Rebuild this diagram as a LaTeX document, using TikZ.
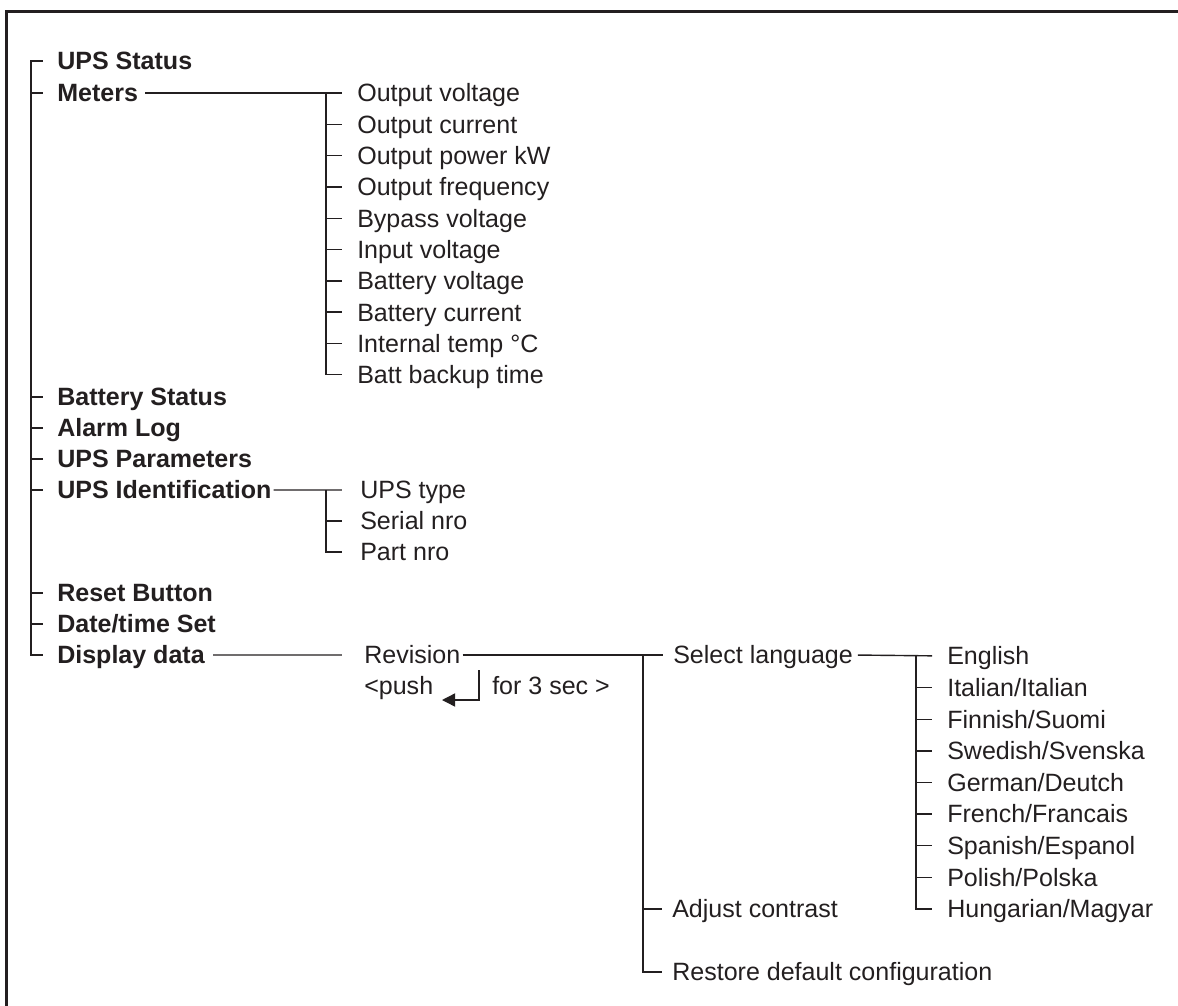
\documentclass[tikz,border=0pt]{standalone}
\usepackage{fontspec}
\setmainfont{Liberation Sans}
\usepackage{xcolor}
\usepackage{tikz}
\usetikzlibrary{arrows.meta,positioning}
\definecolor{ink}{HTML}{231F20}

\begin{document}
\begin{tikzpicture}[
x=0.025cm, y=-0.025cm,
font=\fontsize{17.8}{21}\selectfont,
item/.style={anchor=west, inner sep=0pt, text height=12.7pt, text depth=0pt, text=ink},
head/.style={item, font=\fontsize{17.8}{21}\selectfont\bfseries},
trunk/.style={draw=ink, line width=1.4pt},
twig/.style={draw=ink, line width=1pt},
frame/.style={draw=ink, line width=2.1pt}
]
\useasboundingbox (0,0) rectangle (1178,1006);
\draw[frame] (6.5,1006) |- (1178,11.5);

% main menu
\node[head] (status) at (57,61) {UPS Status};
\node[head] (meters) at (57,93) {Meters};
\node[head] (battery) at (57,397) {Battery Status};
\node[head, below=0.775cm of battery.west, anchor=west] (alarm) {Alarm Log};
\node[head, below=0.775cm of alarm.west, anchor=west] (params) {UPS Parameters};
\node[head, below=0.775cm of params.west, anchor=west] (ident) {UPS Identification};
\node[head] (reset) at (57,593) {Reset Button};
\node[head, below=0.775cm of reset.west, anchor=west] (date) {Date/time Set};
\node[head, below=0.775cm of date.west, anchor=west] (display) {Display data};

% meters
\node[item] (outv) at (357,93) {Output voltage};
\node[item, below=0.7825cm of outv.west, anchor=west] (outc) {Output current};
\node[item, below=0.7825cm of outc.west, anchor=west] (outp) {Output power kW};
\node[item, below=0.7825cm of outp.west, anchor=west] (outf) {Output frequency};
\node[item, below=0.7825cm of outf.west, anchor=west] (byp) {Bypass voltage};
\node[item, below=0.7825cm of byp.west, anchor=west] (inv) {Input voltage};
\node[item, below=0.7825cm of inv.west, anchor=west] (batv) {Battery voltage};
\node[item, below=0.7825cm of batv.west, anchor=west] (batc) {Battery current};
\node[item, below=0.7825cm of batc.west, anchor=west] (temp) {Internal temp °C};
\node[item, below=0.7825cm of temp.west, anchor=west] (backup) {Batt backup time};

% identification
\node[item] (upstype) at (360,490) {UPS type};
\node[item, below=0.775cm of upstype.west, anchor=west] (serial) {Serial nro};
\node[item, below=0.775cm of serial.west, anchor=west] (partno) {Part nro};

% display data
\node[item] (revision) at (364,655) {Revision};
\node[item] (push) at (364,686) {<push};
\node[item] (forsec) at (492,686) {for 3 sec >};
\node[item] (selang) at (673,655) {Select language};
\node[item] (adjust) at (672,909) {Adjust contrast};
\node[item] (restore) at (672,972) {Restore default configuration};

% languages
\node[item] (english) at (947,656) {English};
\node[item, below=0.79cm of english.west, anchor=west] (italian) {Italian/Italian};
\node[item, below=0.79cm of italian.west, anchor=west] (finnish) {Finnish/Suomi};
\node[item, below=0.79cm of finnish.west, anchor=west] (swedish) {Swedish/Svenska};
\node[item, below=0.79cm of swedish.west, anchor=west] (german) {German/Deutch};
\node[item, below=0.79cm of german.west, anchor=west] (french) {French/Francais};
\node[item, below=0.79cm of french.west, anchor=west] (spanish) {Spanish/Espanol};
\node[item, below=0.79cm of spanish.west, anchor=west] (polish) {Polish/Polska};
\node[item, below=0.79cm of polish.west, anchor=west] (hungarian) {Hungarian/Magyar};

\coordinate (spine) at (31,0);
\coordinate (mspine) at (326,0);
\coordinate (rspine) at (643,0);
\coordinate (lspine) at (916,0);
\coordinate (pushtop) at (479,670);
\coordinate (pushtip) at (442,700);

% main tree
\draw[trunk, shorten <=0.35cm, shorten >=0.35cm] (status.west) -| (spine |- display.west) -- (display.west);
\draw[trunk, shorten >=0.35cm] (spine |- meters.west) -- (meters.west);
\draw[trunk, shorten >=0.35cm] (spine |- battery.west) -- (battery.west);
\draw[trunk, shorten >=0.35cm] (spine |- alarm.west) -- (alarm.west);
\draw[trunk, shorten >=0.35cm] (spine |- params.west) -- (params.west);
\draw[trunk, shorten >=0.35cm] (spine |- ident.west) -- (ident.west);
\draw[trunk, shorten >=0.35cm] (spine |- reset.west) -- (reset.west);
\draw[trunk, shorten >=0.35cm] (spine |- date.west) -- (date.west);

% meters branch
\draw[twig, shorten <=0.18cm, shorten >=0.375cm] (meters.east) -- (outv.west);
\draw[twig, shorten >=0.375cm] (mspine |- outv.west) |- (backup.west);
\draw[twig, shorten >=0.375cm] (mspine |- outc.west) -- (outc.west);
\draw[twig, shorten >=0.375cm] (mspine |- outp.west) -- (outp.west);
\draw[twig, shorten >=0.375cm] (mspine |- outf.west) -- (outf.west);
\draw[twig, shorten >=0.375cm] (mspine |- byp.west) -- (byp.west);
\draw[twig, shorten >=0.375cm] (mspine |- inv.west) -- (inv.west);
\draw[twig, shorten >=0.375cm] (mspine |- batv.west) -- (batv.west);
\draw[twig, shorten >=0.375cm] (mspine |- batc.west) -- (batc.west);
\draw[twig, shorten >=0.375cm] (mspine |- temp.west) -- (temp.west);

% identification branch
\draw[twig, shorten <=0.05cm, shorten >=0.45cm] (ident.east) -- (upstype.west);
\draw[twig, shorten >=0.45cm] (mspine |- upstype.west) |- (partno.west);
\draw[twig, shorten >=0.45cm] (mspine |- serial.west) -- (serial.west);

% display data branch
\draw[twig, shorten <=0.2cm, shorten >=0.55cm] (display.east) -- (revision.west);
\draw[twig, shorten <=0.05cm, shorten >=0.25cm] (revision.east) -- (selang.west);
\draw[twig, shorten >=0.25cm] (rspine |- selang.west) |- (restore.west);
\draw[twig, shorten >=0.25cm] (rspine |- adjust.west) -- (adjust.west);
\draw[twig, -{Triangle[length=0.33cm, width=0.33cm]}] (pushtop) |- (pushtip);

% language branch
\draw[twig, shorten <=0.12cm, shorten >=0.375cm] (selang.east) -- (english.west);
\draw[twig, shorten >=0.375cm] (lspine |- english.west) |- (hungarian.west);
\draw[twig, shorten >=0.375cm] (lspine |- italian.west) -- (italian.west);
\draw[twig, shorten >=0.375cm] (lspine |- finnish.west) -- (finnish.west);
\draw[twig, shorten >=0.375cm] (lspine |- swedish.west) -- (swedish.west);
\draw[twig, shorten >=0.375cm] (lspine |- german.west) -- (german.west);
\draw[twig, shorten >=0.375cm] (lspine |- french.west) -- (french.west);
\draw[twig, shorten >=0.375cm] (lspine |- spanish.west) -- (spanish.west);
\draw[twig, shorten >=0.375cm] (lspine |- polish.west) -- (polish.west);
\end{tikzpicture}
\end{document}
